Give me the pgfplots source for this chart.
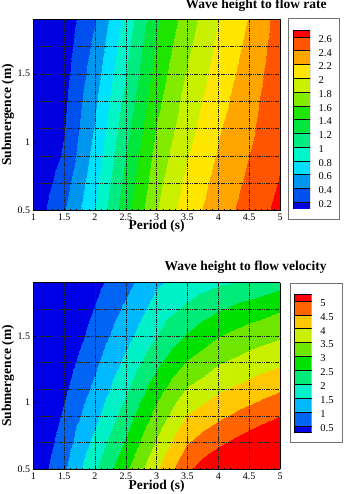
\documentclass[border=0pt]{standalone}
\usepackage{pgfplots}
\pgfplotsset{compat=1.18}
\usepackage{fontspec}
\setmainfont{Liberation Serif}

% band colours, flow rate (0.2 steps)
\definecolor{qa0}{RGB}{0,0,225}
\definecolor{qa1}{RGB}{0,80,240}
\definecolor{qa2}{RGB}{0,150,240}
\definecolor{qa3}{RGB}{0,225,255}
\definecolor{qa4}{RGB}{0,245,200}
\definecolor{qa5}{RGB}{0,235,130}
\definecolor{qa6}{RGB}{0,230,60}
\definecolor{qa7}{RGB}{30,230,0}
\definecolor{qa8}{RGB}{130,235,0}
\definecolor{qa9}{RGB}{200,240,0}
\definecolor{qa10}{RGB}{255,230,0}
\definecolor{qa11}{RGB}{255,165,0}
\definecolor{qa12}{RGB}{255,85,0}
\definecolor{qa13}{RGB}{255,0,0}
% band colours, flow velocity (0.5 steps)
\definecolor{vb0}{RGB}{0,0,230}
\definecolor{vb1}{RGB}{0,100,245}
\definecolor{vb2}{RGB}{0,185,255}
\definecolor{vb3}{RGB}{0,240,200}
\definecolor{vb4}{RGB}{0,235,120}
\definecolor{vb5}{RGB}{0,225,0}
\definecolor{vb6}{RGB}{110,230,0}
\definecolor{vb7}{RGB}{200,240,0}
\definecolor{vb8}{RGB}{255,200,0}
\definecolor{vb9}{RGB}{255,100,0}
\definecolor{vb10}{RGB}{255,0,0}

\pgfplotsset{
  colormap={ratebands}{
    rgb255(0pt)=(0,0,225) rgb255(1pt)=(0,0,225) rgb255(2pt)=(0,0,225)
    rgb255(3pt)=(0,80,240) rgb255(4pt)=(0,150,240) rgb255(5pt)=(0,225,255)
    rgb255(6pt)=(0,245,200) rgb255(7pt)=(0,235,130) rgb255(8pt)=(0,230,60)
    rgb255(9pt)=(30,230,0) rgb255(10pt)=(130,235,0) rgb255(11pt)=(200,240,0)
    rgb255(12pt)=(255,230,0) rgb255(13pt)=(255,165,0) rgb255(14pt)=(255,85,0)
    rgb255(15pt)=(255,0,0) rgb255(16pt)=(255,0,0)},
  colormap={velbands}{
    rgb255(0pt)=(0,0,230) rgb255(1pt)=(0,0,230) rgb255(2pt)=(0,0,230)
    rgb255(3pt)=(0,100,245) rgb255(4pt)=(0,185,255) rgb255(5pt)=(0,240,200)
    rgb255(6pt)=(0,235,120) rgb255(7pt)=(0,225,0) rgb255(8pt)=(110,230,0)
    rgb255(9pt)=(200,240,0) rgb255(10pt)=(255,200,0) rgb255(11pt)=(255,100,0)
    rgb255(12pt)=(255,0,0) rgb255(13pt)=(255,0,0) rgb255(14pt)=(255,0,0)
    rgb255(15pt)=(255,0,0)},
  fieldaxis/.style={
    anchor=south west, scale only axis,
    view={0}{90},
    xmin=1, xmax=5, ymin=0.5, ymax=1.9,
    xtick={1,1.5,...,5}, ytick={0.5,1,1.5},
    minor x tick num=4,
    extra y ticks={0.7,0.9,1.1,1.3,1.5,1.7},
    extra y tick labels={},
    extra y tick style={grid=major, major tick length=0pt},
    xmajorgrids,
    grid style={black!85, line width=0.45pt, dash pattern=on 1.2pt off 0.6pt},
    axis on top,
    axis line style={black, line width=0.5pt},
    tick style={black, line width=0.4pt},
    major tick length=3pt, minor tick length=1.8pt,
    tick pos=left, ztick=\empty,
    colormap access=piecewise constant,
    /pgf/number format/assume math mode=true,
    ticklabel style={font=\fontsize{10}{11}\selectfont, inner sep=0pt},
    xticklabel style={yshift=-3pt},
    yticklabel style={xshift=-3pt},
    label style={font=\fontsize{13.5}{15}\selectfont\bfseries},
    ylabel={Submergence (m)},
    xlabel={Period (s)},
    every axis title shift=0pt,
    title style={font=\fontsize{13.5}{15}\selectfont\bfseries, anchor=base east, inner sep=0pt},
  },
  baraxis/.style={
    anchor=south west, scale only axis,
    xmin=0, xmax=1, hide x axis,
    axis y line*=right, y axis line style={draw=none},
    major tick length=0pt,
    /pgf/number format/assume math mode=true,
    yticklabel style={font=\fontsize{10.5}{11}\selectfont, inner sep=0pt, anchor=west, xshift=8.5pt, yshift=-2pt},
  },
  swatch/.style={fill=#1, draw=black, line width=0.4pt},
}

\begin{document}
\begin{tikzpicture}[x=1pt,y=1pt]
\path[use as bounding box] (0,0) rectangle (344,494);

% ---------- flow rate ----------
\begin{axis}[fieldaxis,
  at={(33.3pt,283.3pt)}, width=246.7pt, height=191.7pt,
  colormap name=ratebands, point meta min=-0.4, point meta max=2.8,
  title={Wave height to flow rate},
  title style={at={(1.19,1.057)}},
  xlabel style={at={(0.5,-0.1007)}, anchor=base, inner sep=0pt},
  ylabel style={at={(-0.0904,0.5)}, anchor=base, inner sep=0pt},
]
\addplot3[surf, shader=interp] table {
1   0.5 0.06
1.5 0.5 0.39
2   0.5 0.80
2.5 0.5 1.34
3   0.5 1.80
3.5 0.5 2.11
4   0.5 2.31
4.5 0.5 2.48
5   0.5 2.66

1   0.7 0.02
1.5 0.7 0.31
2   0.7 0.74
2.5 0.7 1.27
3   0.7 1.74
3.5 0.7 2.05
4   0.7 2.27
4.5 0.7 2.44
5   0.7 2.615

1   0.9 -0.03
1.5 0.9 0.23
2   0.9 0.68
2.5 0.9 1.21
3   0.9 1.68
3.5 0.9 1.99
4   0.9 2.22
4.5 0.9 2.40
5   0.9 2.58

1   1.1 -0.07
1.5 1.1 0.19
2   1.1 0.62
2.5 1.1 1.14
3   1.1 1.62
3.5 1.1 1.93
4   1.1 2.18
4.5 1.1 2.36
5   1.1 2.565

1   1.3 -0.12
1.5 1.3 0.16
2   1.3 0.57
2.5 1.3 1.07
3   1.3 1.55
3.5 1.3 1.88
4   1.3 2.13
4.5 1.3 2.33
5   1.3 2.55

1   1.5 -0.16
1.5 1.5 0.13
2   1.5 0.51
2.5 1.5 1.00
3   1.5 1.49
3.5 1.5 1.82
4   1.5 2.09
4.5 1.5 2.29
5   1.5 2.53

1   1.7 -0.21
1.5 1.7 0.10
2   1.7 0.45
2.5 1.7 0.94
3   1.7 1.43
3.5 1.7 1.76
4   1.7 2.04
4.5 1.7 2.25
5   1.7 2.51

1   1.9 -0.25
1.5 1.9 0.07
2   1.9 0.39
2.5 1.9 0.87
3   1.9 1.37
3.5 1.9 1.70
4   1.9 2.00
4.5 1.9 2.21
5   1.9 2.49
};
\end{axis}

% legend of the flow-rate bands
\draw[black!55, line width=0.7pt] (288.7,275) rectangle (339,475.7);
\begin{axis}[baraxis,
  at={(292.7pt,285pt)}, width=17.3pt, height=179pt,
  ymin=0.1, ymax=2.7, ytick={0.2,0.4,...,2.6},
]
\addplot[swatch=qa0]  coordinates {(0,0.1) (1,0.1) (1,0.2) (0,0.2)} -- cycle;
\addplot[swatch=qa1]  coordinates {(0,0.2) (1,0.2) (1,0.4) (0,0.4)} -- cycle;
\addplot[swatch=qa2]  coordinates {(0,0.4) (1,0.4) (1,0.6) (0,0.6)} -- cycle;
\addplot[swatch=qa3]  coordinates {(0,0.6) (1,0.6) (1,0.8) (0,0.8)} -- cycle;
\addplot[swatch=qa4]  coordinates {(0,0.8) (1,0.8) (1,1.0) (0,1.0)} -- cycle;
\addplot[swatch=qa5]  coordinates {(0,1.0) (1,1.0) (1,1.2) (0,1.2)} -- cycle;
\addplot[swatch=qa6]  coordinates {(0,1.2) (1,1.2) (1,1.4) (0,1.4)} -- cycle;
\addplot[swatch=qa7]  coordinates {(0,1.4) (1,1.4) (1,1.6) (0,1.6)} -- cycle;
\addplot[swatch=qa8]  coordinates {(0,1.6) (1,1.6) (1,1.8) (0,1.8)} -- cycle;
\addplot[swatch=qa9]  coordinates {(0,1.8) (1,1.8) (1,2.0) (0,2.0)} -- cycle;
\addplot[swatch=qa10] coordinates {(0,2.0) (1,2.0) (1,2.2) (0,2.2)} -- cycle;
\addplot[swatch=qa11] coordinates {(0,2.2) (1,2.2) (1,2.4) (0,2.4)} -- cycle;
\addplot[swatch=qa12] coordinates {(0,2.4) (1,2.4) (1,2.6) (0,2.6)} -- cycle;
\addplot[swatch=qa13] coordinates {(0,2.6) (1,2.6) (1,2.7) (0,2.7)} -- cycle;
\end{axis}

% ---------- flow velocity ----------
\begin{axis}[fieldaxis,
  at={(33.3pt,24.7pt)}, width=246.7pt, height=186.6pt,
  colormap name=velbands, point meta min=-1, point meta max=6.5,
  title={Wave height to flow velocity},
  title style={at={(1.19,1.064)}},
  xlabel style={at={(0.5,-0.107)}, anchor=base, inner sep=0pt},
  ylabel style={at={(-0.0904,0.5)}, anchor=base, inner sep=0pt},
]
\addplot3[surf, shader=interp] table {
1   0.5 0.10
1.5 0.5 0.92
2   0.5 1.94
2.5 0.5 2.90
3   0.5 3.96
3.5 0.5 4.91
4   0.5 5.45
4.5 0.5 5.80
5   0.5 6.10

1   0.7 -0.02
1.5 0.7 0.75
2   0.7 1.66
2.5 0.7 2.57
3   0.7 3.58
3.5 0.7 4.48
4   0.7 4.92
4.5 0.7 5.26
5   0.7 5.55

1   0.9 -0.14
1.5 0.9 0.58
2   0.9 1.37
2.5 0.9 2.24
3   0.9 3.19
3.5 0.9 4.02
4   0.9 4.40
4.5 0.9 4.72
5   0.9 5.00

1   1.1 -0.26
1.5 1.1 0.41
2   1.1 1.12
2.5 1.1 1.92
3   1.1 2.80
3.5 1.1 3.54
4   1.1 3.92
4.5 1.1 4.18
5   1.1 4.45

1   1.3 -0.38
1.5 1.3 0.26
2   1.3 0.91
2.5 1.3 1.63
3   1.3 2.40
3.5 1.3 3.05
4   1.3 3.47
4.5 1.3 3.72
5   1.3 3.92

1   1.5 -0.50
1.5 1.5 0.10
2   1.5 0.70
2.5 1.5 1.34
3   1.5 2.00
3.5 1.5 2.55
4   1.5 2.98
4.5 1.5 3.26
5   1.5 3.45

1   1.7 -0.65
1.5 1.7 0.00
2   1.7 0.53
2.5 1.7 1.10
3   1.7 1.72
3.5 1.7 2.10
4   1.7 2.45
4.5 1.7 2.72
5   1.7 2.95

1   1.9 -0.80
1.5 1.9 -0.10
2   1.9 0.36
2.5 1.9 0.85
3   1.9 1.44
3.5 1.9 1.70
4   1.9 1.93
4.5 1.9 2.10
5   1.9 2.35
};
\end{axis}

% legend of the flow-velocity bands
\draw[black!55, line width=0.7pt] (290,51.3) rectangle (342,210.7);
\begin{axis}[baraxis,
  at={(294pt,61.3pt)}, width=17.7pt, height=138.7pt,
  ymin=0.25, ymax=5.25, ytick={0.5,1,...,5},
]
\addplot[swatch=vb0]  coordinates {(0,0.25) (1,0.25) (1,0.5) (0,0.5)} -- cycle;
\addplot[swatch=vb1]  coordinates {(0,0.5) (1,0.5) (1,1.0) (0,1.0)} -- cycle;
\addplot[swatch=vb2]  coordinates {(0,1.0) (1,1.0) (1,1.5) (0,1.5)} -- cycle;
\addplot[swatch=vb3]  coordinates {(0,1.5) (1,1.5) (1,2.0) (0,2.0)} -- cycle;
\addplot[swatch=vb4]  coordinates {(0,2.0) (1,2.0) (1,2.5) (0,2.5)} -- cycle;
\addplot[swatch=vb5]  coordinates {(0,2.5) (1,2.5) (1,3.0) (0,3.0)} -- cycle;
\addplot[swatch=vb6]  coordinates {(0,3.0) (1,3.0) (1,3.5) (0,3.5)} -- cycle;
\addplot[swatch=vb7]  coordinates {(0,3.5) (1,3.5) (1,4.0) (0,4.0)} -- cycle;
\addplot[swatch=vb8]  coordinates {(0,4.0) (1,4.0) (1,4.5) (0,4.5)} -- cycle;
\addplot[swatch=vb9]  coordinates {(0,4.5) (1,4.5) (1,5.0) (0,5.0)} -- cycle;
\addplot[swatch=vb10] coordinates {(0,5.0) (1,5.0) (1,5.25) (0,5.25)} -- cycle;
\end{axis}
\end{tikzpicture}
\end{document}
